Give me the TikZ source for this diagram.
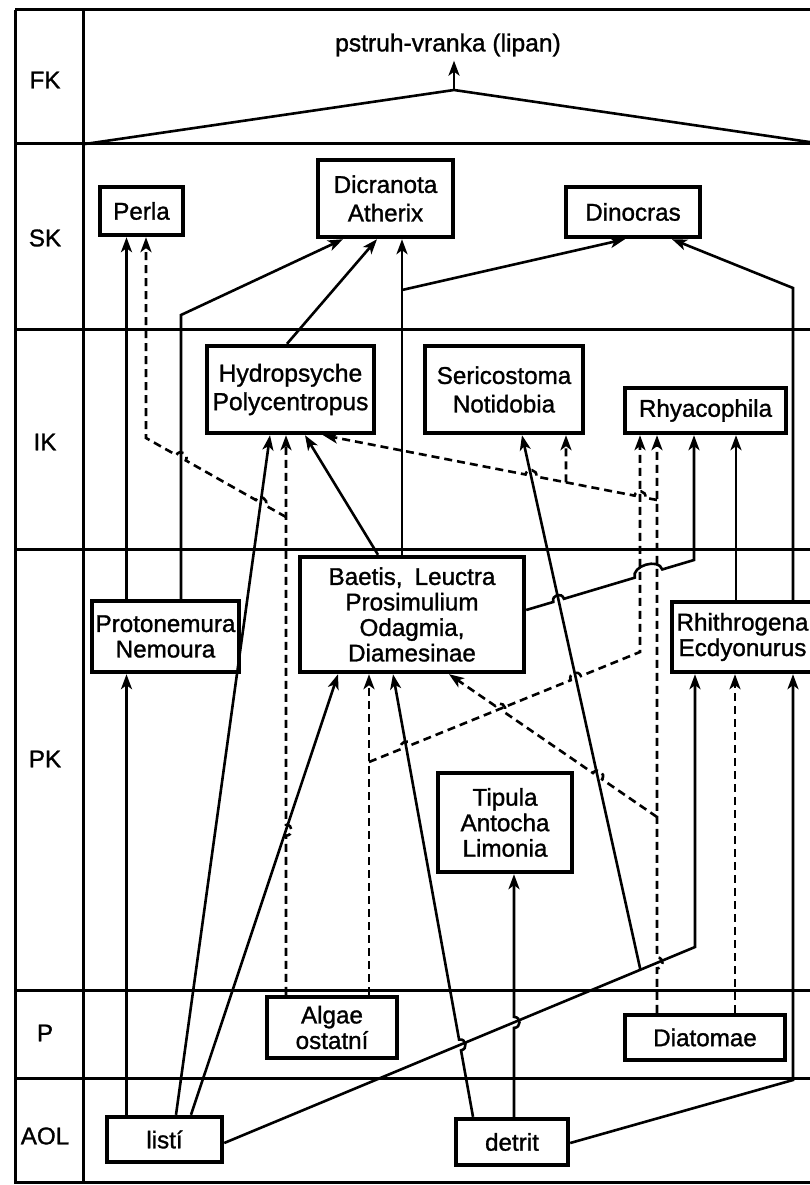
\documentclass[tikz,border=0pt]{standalone}
\usepackage{fontspec}
\setmainfont{Liberation Sans}[FakeBold=1.2]
\usetikzlibrary{calc,arrows.meta}

% a connector segment that jumps over a crossing line:
% #1 = start of the segment, #2 = crossing point, #3 = end of the segment
\newcommand\hopL[3]{-- ($(#2)!5.5pt!(#1)$) to[bend left=90,looseness=1.7] ($(#2)!5.5pt!(#3)$)}
\newcommand\hopR[3]{-- ($(#2)!5.5pt!(#1)$) to[bend right=90,looseness=1.7] ($(#2)!5.5pt!(#3)$)}

\begin{document}
\begin{tikzpicture}[x=1pt,y=-1pt,
  txt/.style={font=\fontsize{24.2}{25.5}\selectfont},
  box/.style={draw,line width=4.4pt,fill=white,inner sep=0pt,align=center,txt},
  grid/.style={line width=3pt},
  link/.style={line width=2.6pt},
  conn/.style={line width=2.6pt,-{Stealth[length=15pt,width=11pt,inset=4pt]}},
  dconn/.style={conn,dash pattern=on 8pt off 5pt}]
\useasboundingbox (0,0) rectangle (810,1185);

% table frame and trophic levels
\draw[grid] (15,10) -- (830,10);
\draw[grid] (15,10) -- (15,1182) -- (830,1182);
\draw[grid] (83,10) -- (83,1182);
\draw[grid] (823,10) -- (823,1182);
\foreach \y in {144,329,549,990,1078} \draw[grid] (15,\y) -- (830,\y);

\node[txt] (lfk) at (45,80) {FK};
\node[txt] (lsk) at (45,238) {SK};
\node[txt] (lik) at (45,442) {IK};
\node[txt] (lpk) at (45,759) {PK};
\node[txt] (lp) at (45,1033) {P};
\node[txt] (laol) at (45,1136) {AOL};

% fish level
\node[txt,font=\fontsize{24.6}{26}\selectfont,inner sep=4pt] (fish) at (448,45) {pstruh-vranka (lipan)};
\coordinate (apex) at (454,90);
\draw[link] (85,144) -- (apex) -- (823,144);
\draw[conn] (apex) -- (apex |- fish.south);

% taxa boxes
\node[box,minimum width=83pt,minimum height=48pt] (perla) at (141.5,211) {Perla};
\node[box,minimum width=135pt,minimum height=77pt,font=\fontsize{24.2}{28.5}\selectfont] (dicr) at (385.5,198.5) {Dicranota\\Atherix};
\node[box,minimum width=134pt,minimum height=50pt] (dino) at (633,212) {Dinocras};
\node[box,minimum width=167pt,minimum height=87pt,font=\fontsize{24.6}{28.5}\selectfont] (hydro) at (290.5,389.5) {Hydropsyche\\Polycentropus};
\node[box,minimum width=158pt,minimum height=87pt,font=\fontsize{24.2}{28.5}\selectfont] (seri) at (504,389.5) {Sericostoma\\Notidobia};
\node[box,minimum width=161pt,minimum height=45pt] (rhya) at (705.5,410.5) {Rhyacophila};
\node[box,minimum width=147pt,minimum height=71pt] (proto) at (165.5,636.5) {Protonemura\\Nemoura};
\node[box,minimum width=224pt,minimum height=115pt] (baetis) at (412,614.5) {Baetis,\hspace{0.5em}Leuctra\\Prosimulium\\Odagmia,\\Diamesinae};
\node[box,minimum width=141pt,minimum height=70pt] (rhith) at (742.5,637) {Rhithrogena\\Ecdyonurus};
\node[box,minimum width=134pt,minimum height=99pt] (tipula) at (505,822.5) {Tipula\\Antocha\\Limonia};
\node[box,minimum width=130pt,minimum height=61pt] (algae) at (332,1027.5) {Algae\\ostatní};
\node[box,minimum width=160pt,minimum height=45pt] (diatom) at (705,1037.5) {Diatomae};
\node[box,minimum width=115pt,minimum height=45pt] (listi) at (164.5,1139.5) {listí};
\node[box,minimum width=112pt,minimum height=46pt] (detrit) at (512,1142) {detrit};

% connector end points
\coordinate (pd0) at ([xshift=15.5pt]proto.north);
\coordinate (pd1) at (181,315);
\coordinate (lh0) at ([xshift=11.5pt]listi.north);
\coordinate (lh1) at ([xshift=-20.5pt]hydro.south);
\coordinate (lb0) at ([xshift=26.5pt]listi.north);
\coordinate (lb1) at ([xshift=-74pt]baetis.south);
\coordinate (lr0) at ([yshift=-3.5pt]listi.east);
\coordinate (lr1) at (695,947);
\coordinate (lr2) at ([xshift=-47.5pt]rhith.south);
\coordinate (ls0) at ($(lr0)!0.884!(lr1)$);
\coordinate (ls1) at ([xshift=18pt]seri.south);
\coordinate (db0) at ([xshift=-39pt]detrit.north);
\coordinate (db1) at ([xshift=-19pt]baetis.south);
\coordinate (dt0) at ([xshift=2pt]detrit.north);
\coordinate (dt1) at ([xshift=9pt]tipula.south);
\coordinate (dr0) at ([yshift=-1pt]detrit.east);
\coordinate (dr1) at (793,1080);
\coordinate (dr2) at ([xshift=50.5pt]rhith.south);
\coordinate (dz0) at ([xshift=30pt]diatom.north);
\coordinate (dz1) at ([xshift=-7.5pt]rhith.south);
\coordinate (dy0) at ([xshift=-48pt]diatom.north);
\coordinate (dy1) at ([xshift=-48.5pt]rhya.south);
\coordinate (dq0) at (657,817);
\coordinate (dq1) at ([xshift=37pt]baetis.south);
\coordinate (dh0) at (657,500);
\coordinate (dh1) at ([xshift=32.5pt]hydro.south);
\coordinate (ds0) at ($(dh0)!0.2725!(dh1)$);
\coordinate (ds1) at ([xshift=62pt]seri.south);
\coordinate (ah0) at ([xshift=-46pt]algae.north);
\coordinate (ah1) at ([xshift=-4.5pt]hydro.south);
\coordinate (ap0) at (286,517);
\coordinate (ap1) at (146,438);
\coordinate (ap2) at ([xshift=4.5pt]perla.south);
\coordinate (ab0) at ([xshift=37pt]algae.north);
\coordinate (ab1) at ([xshift=-43pt]baetis.south);
\coordinate (ar0) at (369,762);
\coordinate (ar1) at (640,652);
\coordinate (ar2) at ([xshift=-65.5pt]rhya.south);
\coordinate (br0) at ([yshift=4.5pt]baetis.east);
\coordinate (br1) at (694,560);
\coordinate (br2) at ([xshift=-11.5pt]rhya.south);

% crossing points where a connector jumps over another one
\coordinate (xdb) at (intersection of db0--db1 and lr0--lr1);
\coordinate (xdt) at (intersection of dt0--dt1 and lr0--lr1);
\coordinate (xdy) at (intersection of dy0--dy1 and lr0--lr1);
\coordinate (xah) at (intersection of ah0--ah1 and lb0--lb1);
\coordinate (xap1) at (intersection of ap0--ap1 and lh0--lh1);
\coordinate (xap2) at (intersection of ap0--ap1 and pd0--pd1);
\coordinate (xar1) at (intersection of ar0--ar1 and db0--db1);
\coordinate (xar2) at (intersection of ar0--ar1 and ls0--ls1);
\coordinate (xdq1) at (intersection of dq0--dq1 and ls0--ls1);
\coordinate (xdq2) at (intersection of dq0--dq1 and ar0--ar1);
\coordinate (xdh1) at (intersection of dh0--dh1 and ar1--ar2);
\coordinate (xdh2) at (intersection of dh0--dh1 and ls0--ls1);
\coordinate (xbr1) at (intersection of br0--br1 and ls0--ls1);
\coordinate (xbr2) at (intersection of br0--br1 and ar1--ar2);
\coordinate (xbr3) at (intersection of br0--br1 and dy0--dy1);

% leaves (listí)
\draw[conn] ([xshift=-38pt]listi.north) -- ([xshift=-39pt]proto.south);
\draw[conn] (lh0) -- (lh1);
\draw[conn] (lb0) -- (lb1);
\draw[conn] (lr0) -- (lr1) -- (lr2);
\draw[conn] (ls0) -- (ls1);

% detritus
\draw[conn] (db0) \hopR{db0}{xdb}{db1} -- (db1);
\draw[conn] (dt0) \hopR{dt0}{xdt}{dt1} -- (dt1);
\draw[conn] (dr0) -- (dr1) -- (dr2);

% diatoms
\draw[dconn] (dz0) -- (dz1);
\draw[dconn] (dy0) \hopR{dy0}{xdy}{dy1} -- (dy1);
\draw[dconn] (dq0) \hopR{dq0}{xdq1}{dq1} \hopR{dq0}{xdq2}{dq1} -- (dq1);
\draw[dconn] (dh0) \hopR{dh0}{xdh1}{dh1} \hopR{dh0}{xdh2}{dh1} -- (dh1);
\draw[dconn] (ds0) -- (ds1);

% other algae
\draw[dconn] (ah0) \hopR{ah0}{xah}{ah1} -- (ah1);
\draw[dconn] (ap0) \hopR{ap0}{xap1}{ap1} \hopR{ap0}{xap2}{ap1} -- (ap1) -- (ap2);
\draw[dconn] (ab0) -- (ab1);
\draw[dconn] (ar0) \hopL{ar0}{xar1}{ar1} \hopL{ar0}{xar2}{ar1} -- (ar1) -- (ar2);

% primary consumers upwards
\draw[conn] ([xshift=-39pt]proto.north) -- ([xshift=-15pt]perla.south);
\draw[conn] (pd0) -- (pd1) -- ([xshift=-42.5pt]dicr.south);
\draw[conn] ([xshift=-34pt]baetis.north) -- ([xshift=14.5pt]hydro.south);
\draw[conn] ([xshift=-10pt]baetis.north) -- ([xshift=16.5pt]dicr.south);
\draw[conn] (402,290) -- ([xshift=-8pt]dino.south);
\draw[conn] (br0) \hopL{br0}{xbr1}{br1} -- ($(xbr2)!5.5pt!(br0)$) to[bend left=90,looseness=1.1] ($(xbr3)!5.5pt!(br1)$) -- (br1) -- (br2);
\draw[conn] ([xshift=50.5pt]rhith.north) -- (793,288) -- ([xshift=39pt]dino.south);
\draw[conn] ([xshift=-6.5pt]rhith.north) -- ([xshift=30.5pt]rhya.south);

% invertebrate predators
\draw[conn] ([xshift=-3.5pt]hydro.north) -- ([xshift=-8.5pt]dicr.south);
\end{tikzpicture}
\end{document}
